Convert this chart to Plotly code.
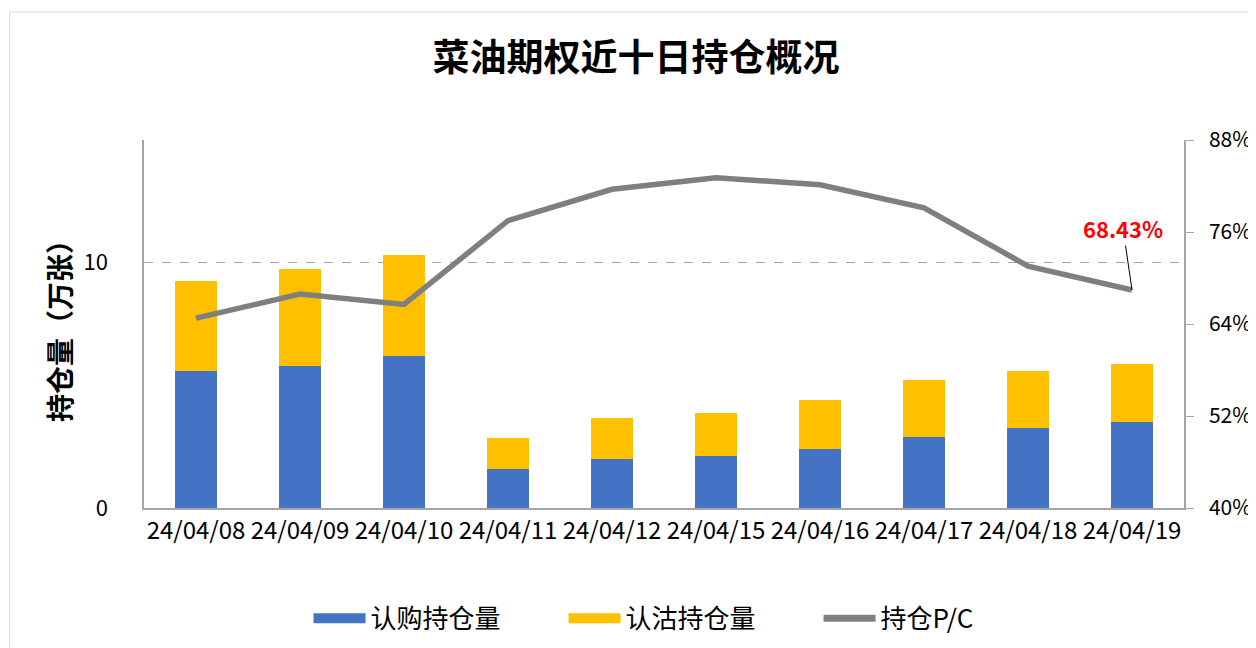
import plotly.graph_objects as go

dates = ["24/04/08", "24/04/09", "24/04/10", "24/04/11", "24/04/12",
         "24/04/15", "24/04/16", "24/04/17", "24/04/18", "24/04/19"]
call_oi = [5.59, 5.78, 6.18, 1.59, 1.99, 2.12, 2.41, 2.90, 3.27, 3.50]
put_oi = [3.65, 3.96, 4.13, 1.27, 1.67, 1.77, 1.99, 2.30, 2.32, 2.39]
pc_ratio = [64.77, 67.90, 66.55, 77.47, 81.57, 83.08, 82.17, 79.16, 71.55, 68.43]

BLUE = "#4472C4"
YELLOW = "#FFC000"
GRAY = "#7F7F7F"
FONT = "Noto Sans CJK SC"

fig = go.Figure()
fig.add_trace(go.Bar(x=dates, y=call_oi, name="认购持仓量", marker=dict(color=BLUE, line=dict(width=0)),
                     width=0.4, showlegend=False))
fig.add_trace(go.Bar(x=dates, y=put_oi, name="认沽持仓量", marker=dict(color=YELLOW, line=dict(width=0)),
                     width=0.4, showlegend=False))
fig.add_trace(go.Scatter(x=dates, y=pc_ratio, name="持仓P/C", mode="lines", yaxis="y2",
                         line=dict(color=GRAY, width=5.5), showlegend=False))

# legend-only swatches
for nm, col in [("认购持仓量", BLUE), ("认沽持仓量", YELLOW)]:
    fig.add_trace(go.Scatter(x=[None], y=[None], mode="lines", name=nm,
                             line=dict(color=col, width=17)))
fig.add_trace(go.Scatter(x=[None], y=[None], mode="lines", name="持仓P/C", yaxis="y2",
                         line=dict(color=GRAY, width=7)))

fig.add_annotation(x=dates[-1], y=pc_ratio[-1], yref="y2", text="<b>%.2f%%</b>" % pc_ratio[-1],
                   showarrow=True, arrowhead=0, arrowwidth=1, arrowcolor="#000000",
                   ax=-9, ay=-62, font=dict(color="#FF0000", size=22, family=FONT))

fig.add_shape(type="rect", xref="paper", yref="paper", x0=-0.1292, x1=1.08, y0=-0.45, y1=1.348,
              line=dict(color="#D9D9D9", width=1), fillcolor="rgba(0,0,0,0)", layer="below")

fig.update_layout(
    width=1256, height=648,
    barmode="stack",
    plot_bgcolor="white", paper_bgcolor="white",
    margin=dict(l=136, r=75, t=132, b=148),
    font=dict(family=FONT, color="#000000"),
    title=dict(text="<b>菜油期权近十日持仓概况</b>", x=0.5, xanchor="center", y=0.923, yanchor="middle",
               font=dict(size=37, family=FONT, color="#000000")),
    xaxis=dict(showline=True, linecolor="#A6A6A6", linewidth=1.5, ticks="", showgrid=False,
               tickfont=dict(size=24, family=FONT), tickangle=0),
    yaxis=dict(range=[0, 15], dtick=10, showline=True, linecolor="#A6A6A6", linewidth=1.5,
               showgrid=True, gridcolor="#A6A6A6", griddash="dash", gridwidth=1, zeroline=False,
               ticks="", ticklabelstandoff=30, tickfont=dict(size=22, family=FONT),
               title=dict(text="<b>持仓量（万张）</b>", font=dict(size=28, family=FONT), standoff=4)),
    yaxis2=dict(range=[40, 88], tick0=40, dtick=12, ticksuffix="%", overlaying="y", side="right",
                showline=True, linecolor="#A6A6A6", linewidth=1.5, showgrid=False, zeroline=False,
                ticks="outside", ticklen=8, tickcolor="#A6A6A6", ticklabelstandoff=11,
                tickfont=dict(size=21, family=FONT)),
    legend=dict(orientation="h", x=0.526, xanchor="center", y=-0.30, yanchor="middle",
                font=dict(size=26, family=FONT), itemwidth=52, traceorder="normal",
                entrywidth=188),
)

fig.write_html("out.html")
